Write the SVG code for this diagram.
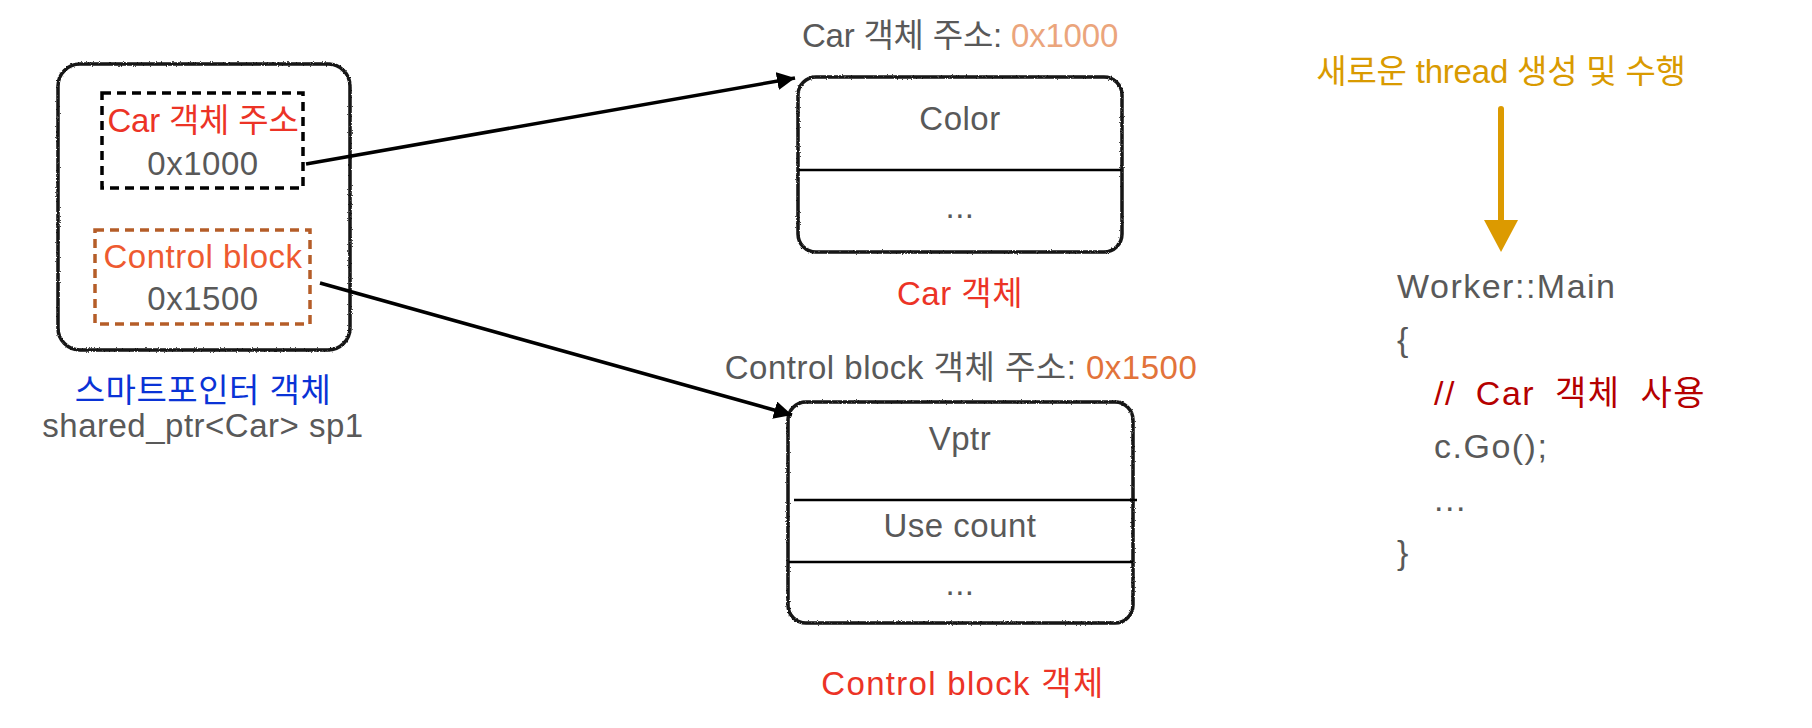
<svg xmlns="http://www.w3.org/2000/svg" width="1812" height="728" viewBox="0 0 1812 728">
<style>
text{font-family:"Liberation Sans","Noto Sans CJK KR",sans-serif;font-size:33px;letter-spacing:0.5px;fill:#595959}
.c{text-anchor:middle}
.red{fill:#ec3326}
.tight{letter-spacing:-0.2px}
.box{fill:none;stroke:#141414;stroke-width:3.5;filter:url(#rough)}
.div{stroke:#000;stroke-width:2.5}
.code{font-size:34px;letter-spacing:1.5px}
</style>
<defs>
<filter id="rough" x="-5%" y="-5%" width="110%" height="110%">
<feTurbulence type="fractalNoise" baseFrequency="0.8" numOctaves="2" seed="3"/>
<feDisplacementMap in="SourceGraphic" scale="2.5" xChannelSelector="R" yChannelSelector="G"/>
</filter>
<marker id="ah" markerUnits="userSpaceOnUse" markerWidth="20" markerHeight="18" refX="18" refY="9" orient="auto">
<path d="M0,0 L18,9 L0,18 Z" fill="#000"/>
</marker>
</defs>
<g id="smart-pointer">
<rect class="box" x="58" y="64" width="292" height="286" rx="22"/>
<rect x="102" y="93" width="201" height="95" fill="none" stroke="#000" stroke-width="3.5" stroke-dasharray="9,6"/>
<text class="c red tight" x="203" y="132">Car 객체 주소</text>
<text class="c" x="203" y="175">0x1000</text>
<rect x="95" y="230" width="215" height="94" fill="none" stroke="#b55d28" stroke-width="3.5" stroke-dasharray="9,6"/>
<text class="c" x="203" y="268" style="fill:#ee5a30">Control block</text>
<text class="c" x="203" y="310">0x1500</text>
<text class="c" x="203" y="402" style="fill:#0a33d6">스마트포인터 객체</text>
<text class="c" x="203" y="437">shared_ptr&lt;Car&gt; sp1</text>
</g>
<g id="car-object">
<text class="c tight" x="960" y="47">Car 객체 주소: <tspan style="fill:#eba57c">0x1000</tspan></text>
<rect class="box" x="798" y="77" width="324" height="175" rx="18"/>
<line class="div" x1="799" y1="170" x2="1121" y2="170"/>
<text class="c" x="960" y="130">Color</text>
<text class="c" x="960" y="218">...</text>
<text class="c red" x="960" y="305">Car 객체</text>
</g>
<g id="control-block">
<text class="c" x="961" y="379">Control block 객체 주소: <tspan style="fill:#e2733a">0x1500</tspan></text>
<rect class="box" x="788" y="402" width="345" height="221" rx="18"/>
<line class="div" x1="794" y1="500" x2="1137" y2="500"/>
<line class="div" x1="789" y1="562" x2="1133" y2="562"/>
<text class="c" x="960" y="450">Vptr</text>
<text class="c" x="960" y="537">Use count</text>
<text class="c" x="960" y="595">...</text>
<text class="c red" x="963" y="695" style="letter-spacing:1.3px">Control block 객체</text>
</g>
<g id="worker-main">
<text class="c tight" x="1501" y="83" style="fill:#d99a00">새로운 thread 생성 및 수행</text>
<text class="code" x="1397" y="298">Worker::Main</text>
<text class="code" x="1397" y="351">{</text>
<text class="code" x="1434" y="405" style="fill:#b50000;word-spacing:9px">// Car 객체 사용</text>
<text class="code" x="1434" y="458">c.Go();</text>
<text class="code" x="1434" y="511">...</text>
<text class="code" x="1397" y="564">}</text>
</g>
<g id="connectors">
<line x1="306" y1="164" x2="795" y2="78" stroke="#000" stroke-width="3.5" marker-end="url(#ah)"/>
<line x1="320" y1="283" x2="792" y2="415" stroke="#000" stroke-width="3.5" marker-end="url(#ah)"/>
<line x1="1501" y1="109" x2="1501" y2="222" stroke="#dc9a00" stroke-width="6" stroke-linecap="round"/>
<path d="M1484,220 L1518,220 L1501,252 Z" fill="#dc9a00"/>
</g>
</svg>
